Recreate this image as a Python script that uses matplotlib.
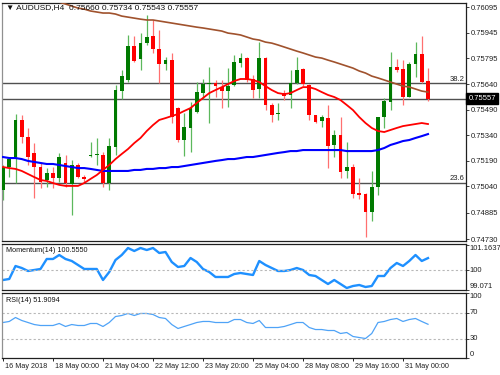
import matplotlib
matplotlib.use('Agg')
import matplotlib.pyplot as plt
import matplotlib.transforms as mtransforms
import numpy as np

plt.rcParams['font.family'] = ['Liberation Sans', 'DejaVu Sans']
plt.rcParams['font.size'] = 6

# ---------------- data ----------------
symbol = "AUDUSD,H4"
opens = [0.75019, 0.75154, 0.75213, 0.75431, 0.75331, 0.75237, 0.75154, 0.75078, 0.75119, 0.75090,
         0.75178, 0.75054, 0.75166, 0.75095, 0.75219, 0.75225, 0.75225, 0.75060, 0.75272, 0.75601,
         0.75666, 0.75866, 0.75789, 0.75883, 0.75924, 0.75848, 0.75760, 0.75783, 0.75501, 0.75313,
         0.75384, 0.75478, 0.75589, 0.75642, 0.75648, 0.75624, 0.75601, 0.75636, 0.75766, 0.75795,
         0.75672, 0.75613, 0.75795, 0.75519, 0.75466, 0.75590, 0.75578, 0.75648, 0.75731, 0.75636,
         0.75460, 0.75425, 0.75442, 0.75284, 0.75342, 0.75131, 0.75154, 0.75001, 0.74995, 0.74890,
         0.75037, 0.75448, 0.75536, 0.75742, 0.75731, 0.75566, 0.75760, 0.75819, 0.75660]
highs = [0.75166, 0.75213, 0.75466, 0.75460, 0.75384, 0.75295, 0.75178, 0.75148, 0.75154, 0.75237,
         0.75225, 0.75195, 0.75178, 0.75107, 0.75301, 0.75325, 0.75242, 0.75325, 0.75636, 0.75725,
         0.75930, 0.75924, 0.75942, 0.76048, 0.76019, 0.75960, 0.75801, 0.75825, 0.75507, 0.75472,
         0.75536, 0.75654, 0.75672, 0.75742, 0.75666, 0.75666, 0.75736, 0.75813, 0.75825, 0.75801,
         0.75695, 0.75889, 0.75801, 0.75531, 0.75531, 0.75607, 0.75725, 0.75801, 0.75736, 0.75642,
         0.75460, 0.75460, 0.75519, 0.75372, 0.75448, 0.75301, 0.75172, 0.75089, 0.75001, 0.75131,
         0.75448, 0.75560, 0.75830, 0.75789, 0.75783, 0.75772, 0.75889, 0.75924, 0.75734]
lows = [0.74960, 0.75095, 0.75060, 0.75295, 0.75166, 0.74972, 0.75031, 0.75037, 0.75031, 0.75066,
        0.75037, 0.74872, 0.75090, 0.75066, 0.75213, 0.75166, 0.75037, 0.75019, 0.75225, 0.75554,
        0.75654, 0.75772, 0.75725, 0.75872, 0.75825, 0.75648, 0.75725, 0.75413, 0.75301, 0.75219,
        0.75242, 0.75472, 0.75554, 0.75413, 0.75566, 0.75501, 0.75507, 0.75630, 0.75742, 0.75654,
        0.75560, 0.75560, 0.75489, 0.75419, 0.75431, 0.75548, 0.75501, 0.75642, 0.75630, 0.75431,
        0.75413, 0.75389, 0.75148, 0.75213, 0.75090, 0.75090, 0.74972, 0.74966, 0.74743, 0.74837,
        0.74990, 0.75384, 0.75489, 0.75713, 0.75519, 0.75566, 0.75683, 0.75648, 0.75543]
closes = [0.75154, 0.75201, 0.75431, 0.75331, 0.75213, 0.75154, 0.75066, 0.75119, 0.75090, 0.75213,
          0.75060, 0.75166, 0.75095, 0.75084, 0.75225, 0.75231, 0.75060, 0.75278, 0.75607, 0.75689,
          0.75866, 0.75778, 0.75883, 0.75919, 0.75848, 0.75760, 0.75783, 0.75448, 0.75313, 0.75389,
          0.75501, 0.75595, 0.75642, 0.75648, 0.75630, 0.75601, 0.75630, 0.75772, 0.75795, 0.75666,
          0.75607, 0.75795, 0.75519, 0.75460, 0.75472, 0.75572, 0.75648, 0.75725, 0.75642, 0.75460,
          0.75419, 0.75448, 0.75278, 0.75342, 0.75125, 0.75154, 0.74995, 0.74989, 0.74890, 0.75037,
          0.75448, 0.75542, 0.75742, 0.75725, 0.75566, 0.75760, 0.75819, 0.75654, 0.75557]

sma_red = [0.75154, 0.75148, 0.75143, 0.75131, 0.75113, 0.75095, 0.75078, 0.75072, 0.75060, 0.75049,
           0.75043, 0.75043, 0.75043, 0.75060, 0.75084, 0.75107, 0.75137, 0.75166, 0.75201, 0.75231,
           0.75260, 0.75295, 0.75325, 0.75366, 0.75401, 0.75431, 0.75442, 0.75454, 0.75466, 0.75484,
           0.75501, 0.75531, 0.75560, 0.75589, 0.75607, 0.75624, 0.75642, 0.75660, 0.75672, 0.75672,
           0.75666, 0.75654, 0.75630, 0.75607, 0.75589, 0.75583, 0.75589, 0.75607, 0.75624, 0.75624,
           0.75613, 0.75595, 0.75578, 0.75566, 0.75548, 0.75519, 0.75489, 0.75448, 0.75413, 0.75384,
           0.75366, 0.75360, 0.75372, 0.75384, 0.75395, 0.75401, 0.75407, 0.75413, 0.75407]
sma_blue = [0.75213, 0.75207, 0.75207, 0.75201, 0.75190, 0.75184, 0.75178, 0.75172, 0.75172, 0.75166,
            0.75160, 0.75154, 0.75148, 0.75148, 0.75143, 0.75137, 0.75131, 0.75131, 0.75131, 0.75131,
            0.75131, 0.75137, 0.75137, 0.75143, 0.75143, 0.75148, 0.75148, 0.75154, 0.75154, 0.75160,
            0.75166, 0.75172, 0.75178, 0.75184, 0.75190, 0.75195, 0.75201, 0.75201, 0.75207, 0.75213,
            0.75213, 0.75219, 0.75225, 0.75231, 0.75237, 0.75242, 0.75248, 0.75248, 0.75254, 0.75254,
            0.75254, 0.75254, 0.75254, 0.75254, 0.75254, 0.75248, 0.75248, 0.75248, 0.75248, 0.75248,
            0.75254, 0.75266, 0.75284, 0.75295, 0.75307, 0.75313, 0.75325, 0.75336, 0.75348]
sma_brown = [0.76213, 0.76201, 0.76196, 0.76183, 0.76172, 0.76160, 0.76154, 0.76142, 0.76130, 0.76124,
             0.76113, 0.76101, 0.76089, 0.76083, 0.76072, 0.76066, 0.76060, 0.76060, 0.76054, 0.76042,
             0.76036, 0.76030, 0.76024, 0.76019, 0.76019, 0.76013, 0.76007, 0.76001, 0.75995, 0.75989,
             0.75983, 0.75977, 0.75972, 0.75966, 0.75960, 0.75954, 0.75942, 0.75937, 0.75931, 0.75919,
             0.75907, 0.75901, 0.75889, 0.75883, 0.75872, 0.75860, 0.75848, 0.75836, 0.75825, 0.75813,
             0.75801, 0.75795, 0.75783, 0.75772, 0.75760, 0.75748, 0.75736, 0.75719, 0.75707, 0.75689,
             0.75678, 0.75666, 0.75654, 0.75642, 0.75630, 0.75625, 0.75613, 0.75601, 0.75595]

momentum = [99.536, 99.583, 100.187, 100.094, 99.955, 100.001, 100.048, 100.513, 100.513, 100.699,
            100.513, 100.420, 100.234, 100.048, 100.048, 100.048, 99.536, 99.908, 100.466, 100.699,
            101.024, 100.885, 101.024, 100.931, 101.024, 100.792, 100.838, 100.373, 100.141, 100.187,
            100.559, 100.373, 100.048, 99.908, 99.676, 99.676, 99.676, 99.815, 99.862, 99.815,
            99.769, 100.420, 100.234, 100.094, 99.955, 99.955, 100.001, 100.094, 100.001, 99.769,
            99.722, 99.536, 99.350, 99.536, 99.350, 99.164, 99.257, 99.304, 99.211, 99.257,
            99.722, 99.722, 100.094, 100.327, 100.187, 100.420, 100.699, 100.420, 100.555]
rsi = [54.6, 56.2, 62.3, 57.7, 54.6, 51.5, 50.0, 50.0, 50.0, 53.1,
       48.5, 51.5, 50.0, 50.0, 53.1, 53.1, 48.5, 54.6, 63.8, 65.4,
       68.5, 65.4, 68.5, 68.5, 66.9, 62.3, 60.8, 51.5, 45.4, 48.5,
       51.5, 54.6, 56.2, 56.2, 54.6, 54.6, 54.6, 59.2, 59.2, 54.6,
       53.1, 57.7, 46.9, 46.9, 46.9, 48.5, 51.5, 54.6, 54.6, 46.9,
       43.8, 43.8, 42.3, 42.3, 37.7, 39.2, 33.1, 31.5, 30.0, 37.7,
       54.6, 56.2, 59.2, 60.8, 56.2, 59.2, 60.8, 56.2, 51.9]

fib_levels = [0.75646, 0.75062]
fib_labels = ["38.2", "23.6"]
price_ticks = [0.76095, 0.75945, 0.75795, 0.75640, 0.75490, 0.75340, 0.75190, 0.75040, 0.74885, 0.74730]
mom_ticks = [101.1637, 100, 99.071]
mom_tick_labels = ["101.1637", "100", "99.071"]
rsi_ticks = [100, 70, 30, 0]
date_labels = ["16 May 2018", "18 May 00:00", "21 May 04:00", "22 May 12:00", "23 May 20:00",
               "25 May 04:00", "28 May 08:00", "29 May 16:00", "31 May 00:00"]
date_step = 8
mom_title = "Momentum(14) 100.5550"
rsi_title = "RSI(14) 51.9094"

# ---------------- figure ----------------
FS_AXIS = 5.5
FS_TXT = 5.2

O = np.array(opens); H = np.array(highs); Lo = np.array(lows); C = np.array(closes)
n = len(C)
x = np.arange(n)

fig = plt.figure(figsize=(5, 3.75), dpi=100)
fig.patch.set_facecolor('white')
left, width = 2 / 500, 464 / 500
ax = fig.add_axes([left, 134 / 375, width, 238 / 375])
axm = fig.add_axes([left, 85 / 375, width, 46 / 375])
axr = fig.add_axes([left, 17 / 375, width, 65 / 375])

xlim = (-0.16, 74.08)
for a in (ax, axm, axr):
    a.set_xlim(*xlim)
    a.set_facecolor('white')
    for s in a.spines.values():
        s.set_color('#202020')
        s.set_linewidth(0.9)
    a.spines['left'].set_color('#909090')
    a.yaxis.tick_right()
    a.tick_params(axis='y', length=2.2, width=0.6, pad=1.0, labelsize=FS_AXIS, colors='#202020')

# candles
up = C >= O
wick_cols = np.where(up, '#5cb85c', '#ff7070')
body_cols = np.where(up, '#007a00', '#ff0000')
ax.vlines(x, Lo, H, colors=wick_cols, linewidth=0.9, zorder=2)
ax.bar(x, np.maximum(np.abs(C - O), 0.00004), bottom=np.minimum(O, C), width=0.62,
       color=body_cols, linewidth=0, zorder=3)

ax.plot(x, sma_brown, color='#a0522d', lw=1.2, zorder=4)
ax.plot(x, sma_blue, color='#0000ff', lw=1.5, zorder=4)
ax.plot(x, sma_red, color='#ff0000', lw=1.3, zorder=4)

blend = mtransforms.blended_transform_factory(ax.transAxes, ax.transData)
for lvl, lab in zip(fib_levels, fib_labels):
    ax.axhline(lvl, color='#505050', lw=1.0, zorder=1)
    ax.text(0.997, lvl + 0.00004, lab, transform=blend, ha='right', va='bottom',
            fontsize=FS_AXIS, color='#202020')
ax.axhline(C[-1], color='#505050', lw=1.0, zorder=1)

ax.set_ylim(0.74719, 0.76119)
ax.set_yticks(price_ticks)
ax.set_yticklabels([f"{p:.5f}" for p in price_ticks])
ax.set_xticks([])
ax.text(1.005, C[-1], f"{C[-1]:.5f}", transform=blend, ha='left', va='center', fontsize=FS_AXIS,
        color='white', zorder=10, clip_on=False,
        bbox=dict(facecolor='black', edgecolor='black', pad=1.3))

header = f"\u25bc {symbol}  {O[-1]:.5f} {H[-1]:.5f} {Lo[-1]:.5f} {C[-1]:.5f}"
ax.text(0.008, 0.979, header, transform=ax.transAxes, ha='left', va='center', fontsize=6,
        color='#101010', zorder=6)

# momentum
axm.plot(x, momentum, color='#1e90ff', lw=1.7)
axm.axhline(100, color='#b8b8b8', lw=0.8, ls=(0, (2, 2)))
axm.set_ylim(99.071, 101.21)
axm.set_xticks([])
axm.set_yticks(mom_ticks)
axm.set_yticklabels([])
bm = mtransforms.blended_transform_factory(axm.transAxes, axm.transData)
mom_va = ['top', 'center', 'bottom']
for v, va, s in zip(mom_ticks, mom_va, mom_tick_labels):
    axm.text(1.008, v, s, transform=bm, ha='left', va=va, fontsize=FS_AXIS, color='#202020',
             clip_on=False)
axm.text(0.008, 0.85, mom_title, transform=axm.transAxes, ha='left', va='center', fontsize=FS_TXT,
         color='#101010')

# RSI
axr.plot(x, rsi, color='#4fa3f7', lw=0.9)
for lv in (70, 30):
    axr.axhline(lv, color='#b8b8b8', lw=0.8, ls=(0, (2, 2)))
axr.set_ylim(0, 100)
axr.set_yticks(rsi_ticks)
axr.set_yticklabels([])
br = mtransforms.blended_transform_factory(axr.transAxes, axr.transData)
rsi_va = ['top', 'center', 'center', 'bottom']
for v, va in zip(rsi_ticks, rsi_va):
    axr.text(1.008, v, str(v), transform=br, ha='left', va=va, fontsize=FS_AXIS, color='#202020',
             clip_on=False)
axr.text(0.008, 0.89, rsi_title, transform=axr.transAxes, ha='left', va='center', fontsize=FS_TXT,
         color='#101010')

xt = list(range(0, n, date_step))[:len(date_labels)]
axr.set_xticks(xt)
axr.set_xticklabels(date_labels, ha='left', fontsize=FS_TXT, color='#202020')
axr.tick_params(axis='x', length=2.5, width=0.6, pad=1.2, direction='out')
shift = mtransforms.ScaledTranslation(2 / 100, 0, fig.dpi_scale_trans)
for lab in axr.get_xticklabels():
    lab.set_transform(lab.get_transform() + shift)

fig.savefig('out.png', dpi=100, facecolor='white')
